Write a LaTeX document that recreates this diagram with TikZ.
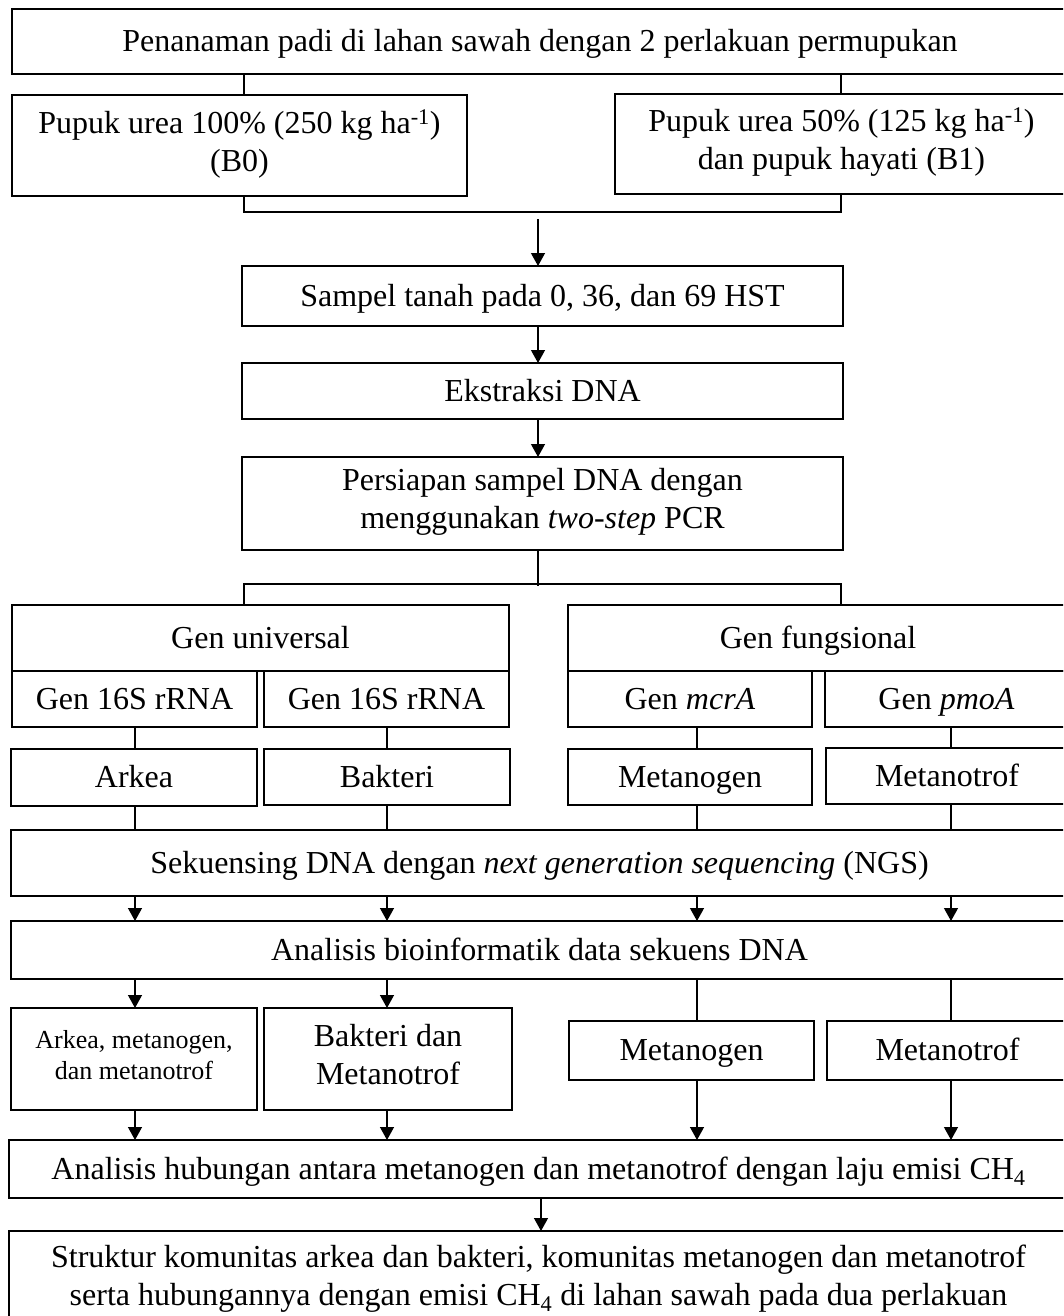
\documentclass[tikz,border=0pt]{standalone}
\usepackage{fontspec}
\setmainfont{Liberation Serif}
\usetikzlibrary{arrows.meta,calc}
\newcommand{\boxstrut}{\rule[-0.31em]{0pt}{1.25em}}

\begin{document}
\begin{tikzpicture}[x=1pt,y=-1pt,>={Triangle[length=13pt,width=14pt]},line join=miter]
\path[fill=white,use as bounding box] (0,0) rectangle (1063,1316);
\clip (0,0) rectangle (1063,1316);
\tikzset{box/.style={draw=black,line width=1.8pt,anchor=north west,inner sep=0pt,outer sep=0pt,align=center,font=\fontsize{32}{38}\selectfont,execute at begin node=\boxstrut,execute at end node=\boxstrut},smalltext/.style={font=\fontsize{26}{31}\selectfont},link/.style={draw=black,line width=1.3pt},flow/.style={link,->}}
\coordinate (cl) at (244,0); \coordinate (cr) at (841,0); \coordinate (mid) at (538,0); \coordinate (hc) at (541,0);
\coordinate (c1) at (135,0); \coordinate (c2) at (387,0); \coordinate (c3) at (697,0); \coordinate (c4) at (951,0);
% perlakuan
\node[box,minimum width=1056pt,minimum height=65pt] (tanam) at (12,9) {Penanaman padi di lahan sawah dengan 2 perlakuan permupukan};
\node[box,minimum width=455pt,minimum height=101pt] (b0) at (12,95) {Pupuk urea 100\% (250 kg ha\textsuperscript{-1})\\(B0)};
\node[box,minimum width=453pt,minimum height=100pt] (b1) at (615,94) {Pupuk urea 50\% (125 kg ha\textsuperscript{-1})\\dan pupuk hayati (B1)};
\node[box,minimum width=601pt,minimum height=60pt] (sampel) at (242,266) {Sampel tanah pada 0, 36, dan 69 HST};
\node[box,minimum width=601pt,minimum height=56pt] (ekstr) at (242,363) {Ekstraksi DNA};
\node[box,minimum width=601pt,minimum height=93pt] (siap) at (242,457) {Persiapan sampel DNA dengan\\menggunakan \textit{two-step} PCR};
% gen
\node[box,minimum width=497pt,minimum height=66pt] (genuni) at (12,605) {Gen universal};
\node[box,minimum width=500pt,minimum height=66pt] (genfung) at (568,605) {Gen fungsional};
\node[box,minimum width=245pt,minimum height=56pt] (g16a) at (12,671) {Gen 16S rRNA};
\node[box,minimum width=245pt,minimum height=56pt] (g16b) at (264,671) {Gen 16S rRNA};
\node[box,minimum width=244pt,minimum height=56pt] (mcra) at (568,671) {Gen \textit{mcrA}};
\node[box,minimum width=243pt,minimum height=56pt] (pmoa) at (825,671) {Gen \textit{pmoA}};
\node[box,minimum width=246pt,minimum height=57pt] (arkea) at (11,749) {Arkea};
\node[box,minimum width=246pt,minimum height=56pt] (bakteri) at (264,749) {Bakteri};
\node[box,minimum width=244pt,minimum height=56pt] (metanogen) at (568,749) {Metanogen};
\node[box,minimum width=242pt,minimum height=56pt] (metanotrof) at (826,748) {Metanotrof};
% sekuensing dan analisis
\node[box,minimum width=1057pt,minimum height=66pt] (sekuen) at (11,830) {Sekuensing DNA dengan \textit{next generation sequencing} (NGS)};
\node[box,minimum width=1057pt,minimum height=58pt] (analisis) at (11,921) {Analisis bioinformatik data sekuens DNA};
\node[box,smalltext,minimum width=246pt,minimum height=102pt] (arkea2) at (11,1008) {Arkea, metanogen,\\dan metanotrof};
\node[box,minimum width=248pt,minimum height=102pt] (bakteri2) at (264,1008) {Bakteri dan\\Metanotrof};
\node[box,minimum width=245pt,minimum height=59pt] (metanogen2) at (569,1021) {Metanogen};
\node[box,minimum width=241pt,minimum height=59pt] (metanotrof2) at (827,1021) {Metanotrof};
\node[box,minimum width=1059pt,minimum height=58pt] (hubungan) at (9,1140) {Analisis hubungan antara metanogen dan metanotrof dengan laju emisi CH\textsubscript{4}};
\node[box,minimum width=1059pt,minimum height=98pt] (struktur) at (9,1231) {Struktur komunitas arkea dan bakteri, komunitas metanogen dan metanotrof\\serta hubungannya dengan emisi CH\textsubscript{4} di lahan sawah pada dua perlakuan};
% penghubung
\coordinate (jt) at (538,212); \coordinate (js) at (538,219); \coordinate (jb) at (538,584);
\draw[link] (tanam.south -| cl) -- (b0.north -| cl); \draw[link] (tanam.south -| cr) -- (b1.north -| cr);
\draw[link] (b0.south -| cl) |- (jt) -| (b1.south -| cr);
\draw[flow] (js) -- (sampel.north -| js);
\draw[flow] (sampel.south -| mid) -- (ekstr.north -| mid);
\draw[flow] (ekstr.south -| mid) -- (siap.north -| mid);
\draw[link] (siap.south -| mid) -- ([yshift=-2pt]jb); \draw[link] (genuni.north -| cl) |- (jb) -| (genfung.north -| cr);
\foreach \a/\b/\c in {g16a/arkea/c1,g16b/bakteri/c2,mcra/metanogen/c3,pmoa/metanotrof/c4}
  \draw[link] (\a.south -| \c) -- (\b.north -| \c) (\b.south -| \c) -- (sekuen.north -| \c);
\foreach \c in {c1,c2,c3,c4} \draw[flow] (sekuen.south -| \c) -- (analisis.north -| \c);
\foreach \b/\c in {arkea2/c1,bakteri2/c2} \draw[flow] (analisis.south -| \c) -- (\b.north -| \c);
\foreach \b/\c in {metanogen2/c3,metanotrof2/c4} \draw[link] (analisis.south -| \c) -- (\b.north -| \c);
\foreach \b/\c in {arkea2/c1,bakteri2/c2,metanogen2/c3,metanotrof2/c4} \draw[flow] (\b.south -| \c) -- (hubungan.north -| \c);
\draw[flow] (hubungan.south -| hc) -- (struktur.north -| hc);
\end{tikzpicture}
\end{document}
